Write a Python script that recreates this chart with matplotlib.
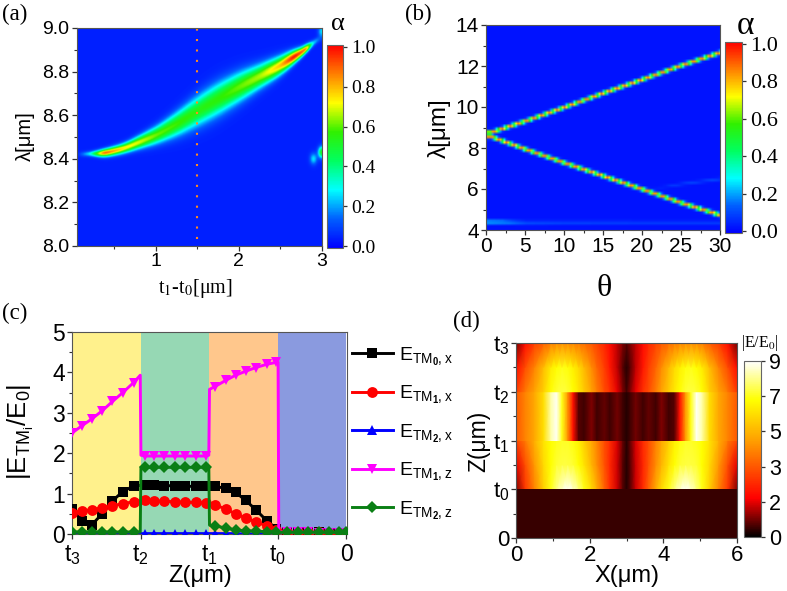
import numpy as np
import matplotlib
matplotlib.use("Agg")
import matplotlib.pyplot as plt
from matplotlib.colors import LinearSegmentedColormap, Normalize

W, H = 787, 591
SANS = "Liberation Sans"
SERIF = "Liberation Serif"

# (a) ridge, one entry per read column
a_t = [0.05, 0.21, 0.37, 0.61, 0.77, 1.01, 1.25, 1.5, 1.73, 2.0, 2.25, 2.5, 2.65, 2.81, 2.87, 3.0]
a_lam = [8.42, 8.423, 8.425, 8.447, 8.472, 8.51, 8.56, 8.62, 8.672, 8.73, 8.78, 8.83, 8.868, 8.905, 8.93, 8.96]
a_peak = [0.0, 0.25, 0.86, 0.7, 0.66, 0.57, 0.54, 0.5, 0.52, 0.57, 0.62, 0.75, 0.96, 0.8, 0.25, 0.0]
a_sigma = [0.008, 0.008, 0.012, 0.015, 0.019, 0.027, 0.037, 0.047, 0.05, 0.045, 0.036, 0.028, 0.02, 0.012, 0.01, 0.01]
# small spots at the right edge of (a)
a_spot_t = [2.99, 2.89, 2.99]
a_spot_lam = [8.43, 8.40, 8.985]
a_spot_amp = [0.5, 0.22, 0.22]
a_background = 0.04

# (b) the two branches and the faint bands
b_theta = [0.5, 5, 10, 15, 20, 25, 30]
b_upper = [8.75, 9.32, 10.0, 10.7, 11.37, 12.06, 12.7]
b_lower = [8.55, 7.92, 7.25, 6.6, 5.95, 5.28, 4.67]
b_low_theta = [0, 2, 5, 10, 20, 30]
b_low_lam = [4.33, 4.33, 4.3, 4.3, 4.3, 4.3]
b_low_amp = [0.28, 0.25, 0.1, 0.08, 0.07, 0.07]
b_faint_theta = [0, 21, 25, 30]
b_faint_lam = [5.95, 5.95, 6.2, 6.45]
b_faint_amp = [0.0, 0.0, 0.07, 0.08]
b_background = 0.02

# (c) field profiles, tick labels and legend
c_z = [0, 0.145, 0.29, 0.44, 0.59, 0.74, 0.90, 0.995,
       1.005, 1.06, 1.20, 1.34, 1.50, 1.65, 1.81, 1.95, 1.995,
       2.005, 2.085, 2.24, 2.385, 2.535, 2.68, 2.84, 2.98, 3.005,
       3.015, 3.14, 3.29, 3.44, 3.6, 3.75, 3.89, 4.0]
c_tm0x = [0.62, 0.32, 0.23, 0.5, 0.82, 1.05, 1.19, 1.2,
          1.22, 1.22, 1.22, 1.2, 1.19, 1.18, 1.18, 1.18, 1.18,
          1.18, 1.18, 1.13, 1.03, 0.83, 0.6, 0.33, 0.13, 0.1,
          0.1, 0.05, 0.04, 0.04, 0.04, 0.03, 0.03, 0.03]
c_tm1x = [0.53, 0.57, 0.6, 0.65, 0.7, 0.75, 0.8, 0.82,
          0.83, 0.83, 0.82, 0.81, 0.8, 0.79, 0.78, 0.77, 0.77,
          0.77, 0.72, 0.62, 0.5, 0.4, 0.3, 0.2, 0.1, 0.09,
          0.09, 0.05, 0.04, 0.04, 0.04, 0.03, 0.03, 0.03]
c_tm2x = [0.0, 0.0, 0.0, 0.0, 0.0, 0.0, 0.0, 0.0,
          0.01, 0.01, 0.01, 0.01, 0.01, 0.01, 0.01, 0.01, 0.01,
          0.01, 0.01, 0.01, 0.01, 0.0, 0.0, 0.0, 0.0, 0.0,
          0.0, 0.0, 0.0, 0.0, 0.0, 0.0, 0.0, 0.0]
c_tm1z = [2.5, 2.68, 2.85, 3.05, 3.28, 3.5, 3.75, 3.93,
          1.95, 1.93, 1.93, 1.93, 1.93, 1.93, 1.93, 1.93, 1.95,
          3.58, 3.65, 3.8, 3.93, 4.03, 4.12, 4.2, 4.25, 4.25,
          0.05, 0.04, 0.04, 0.04, 0.03, 0.03, 0.03, 0.03]
c_tm2z = [0.05, 0.05, 0.05, 0.05, 0.05, 0.05, 0.05, 0.05,
          1.65, 1.65, 1.65, 1.65, 1.65, 1.65, 1.65, 1.65, 1.65,
          0.22, 0.2, 0.15, 0.1, 0.08, 0.07, 0.06, 0.05, 0.05,
          0.04, 0.04, 0.04, 0.04, 0.04, 0.04, 0.04, 0.04]
# the boundary points carry no marker
c_marks = [i for i in range(len(c_z)) if i not in (7, 8, 16, 17, 25, 26)]
c_ticks = [0, 1, 2, 3, 4]
c_ticklabels = ["t$_3$", "t$_2$", "t$_1$", "t$_0$", "0"]
c_bands = ["#FFF18C", "#96D8B4", "#FFC78C", "#8A9ADF"]
c_names = [r"E$_{\mathrm{TM}_{\mathbf{0}},\mathrm{x}}$", r"E$_{\mathrm{TM}_{\mathbf{1}},\mathrm{x}}$",
           r"E$_{\mathrm{TM}_{\mathbf{2}},\mathrm{x}}$", r"E$_{\mathrm{TM}_{\mathbf{1}},\mathrm{z}}$",
           r"E$_{\mathrm{TM}_{\mathbf{2}},\mathrm{z}}$"]

# (d) |E/E0| by layer, left half of the cell, mirrored at x=3
d_x = [0, 0.25, 0.5, 0.75, 0.95, 1.1, 1.25, 1.4, 1.55, 1.7, 1.85, 2.05, 2.2, 2.4, 2.55, 2.75, 2.9, 3.0]
d_top_z = [3.0, 3.5, 4.0]
d_top = [[3.0, 4.2, 5.0, 6.0, 7.0, 7.4, 7.5, 7.4, 7.0, 6.5, 5.9, 5.0, 4.3, 3.4, 2.9, 1.8, 1.0, 0.5],
         [2.2, 3.4, 4.4, 5.6, 6.6, 7.0, 7.2, 7.1, 6.7, 6.2, 5.5, 4.6, 3.9, 3.1, 2.4, 1.5, 0.7, 0.3],
         [0.9, 2.2, 3.1, 3.7, 4.3, 4.5, 4.6, 4.5, 4.4, 4.2, 4.0, 3.6, 3.2, 2.7, 2.2, 1.5, 1.0, 0.7]]
d_mid_z = [2.0, 3.0]
d_mid = [[3.6, 4.4, 5.1, 6.3, 8.3, 8.9, 7.2, 4.8, 2.3, 0.7, 0.5, 1.0, 0.5, 0.8, 0.5, 0.9, 0.5, 0.3],
         [3.6, 4.4, 5.1, 6.3, 8.3, 8.9, 7.2, 4.8, 2.3, 0.7, 0.5, 1.0, 0.5, 0.8, 0.5, 0.9, 0.5, 0.3]]
d_low_z = [1.0, 1.5, 2.0]
d_low = [[1.0, 3.0, 4.4, 6.0, 7.2, 8.0, 8.6, 9.0, 8.6, 8.0, 7.2, 6.2, 5.2, 3.8, 2.8, 1.6, 0.7, 0.3],
         [1.8, 3.4, 4.8, 6.2, 7.0, 7.4, 7.5, 7.5, 7.4, 7.0, 6.4, 5.4, 4.6, 3.5, 2.7, 1.6, 0.7, 0.3],
         [3.2, 4.2, 5.3, 6.4, 7.0, 7.2, 7.3, 7.3, 7.1, 6.7, 6.0, 5.1, 4.4, 3.4, 2.8, 1.7, 0.8, 0.3]]
d_floor = 0.45
d_ticks = [0, 1, 2, 3, 4]
d_ticklabels = ["0", "t$_0$", "t$_1$", "t$_2$", "t$_3$"]
d_cb_ticks = [0, 1.8, 3.6, 5.4, 7.2, 9]
d_cb_labels = ["0", "2", "3", "5", "7", "9"]

rainbow = LinearSegmentedColormap.from_list(
    "origin", ["#0000FF", "#0060FF", "#00FFFF", "#00FF60", "#30F000", "#FFFF00", "#FF8000", "#FF0000"])
fire = LinearSegmentedColormap.from_list(
    "fire", [(0, "#000000"), (0.22, "#FF0000"), (0.55, "#FFA000"), (0.78, "#FFFF00"), (1, "#FFFFFF")])

plt.rcParams["font.family"] = SANS
plt.rcParams["mathtext.fontset"] = "custom"
plt.rcParams["mathtext.rm"] = SANS
plt.rcParams["mathtext.bf"] = SANS + ":bold"
plt.rcParams["axes.edgecolor"] = "#555555"


def px_axes(fig, left, top, right, bottom):
    return fig.add_axes([left / W, 1 - bottom / H, (right - left) / W, (bottom - top) / H])


def style(ax, size):
    ax.tick_params(which="major", length=3.5, width=0.9, labelsize=size, pad=1.5, color="#333333")
    ax.tick_params(which="minor", length=2, width=0.8, color="#333333")


def colorbar(fig, mesh, box, ticks, labels, family, size):
    cax = px_axes(fig, *box)
    bar = fig.colorbar(mesh, cax=cax)
    bar.set_ticks(ticks, labels=labels)
    bar.ax.minorticks_off()
    bar.ax.tick_params(length=3, width=0.9, labelsize=size, pad=3, color="#333333")
    for t in bar.ax.get_yticklabels():
        t.set_family(family)
    bar.outline.set_edgecolor("#666666")
    return bar


def smooth(t_axis, xs, ys, window=25):
    # takes the corners out of the read column values
    vals = np.interp(t_axis, xs, ys)
    padded = np.pad(vals, window, mode="edge")
    return np.convolve(padded, np.ones(window) / window, mode="same")[window:-window]


def ridge_field(t_axis, lam_axis):
    peak = smooth(t_axis, a_t, a_peak, 9)
    mid = smooth(t_axis, a_t, a_lam)
    sig = smooth(t_axis, a_t, a_sigma)
    tt, ll = np.meshgrid(t_axis, lam_axis)
    field = a_background + peak * np.exp(-0.5 * ((ll - mid) / sig) ** 2)
    for t0, l0, amp in zip(a_spot_t, a_spot_lam, a_spot_amp):
        field += amp * np.exp(-0.5 * (((tt - t0) / 0.03) ** 2 + ((ll - l0) / 0.018) ** 2))
    return field


def draw_a(fig):
    ax = px_axes(fig, 76.5, 28, 322, 246)
    field = ridge_field(np.linspace(0.05, 3, 400), np.linspace(8, 9, 400))
    mesh = ax.imshow(field, extent=[0.05, 3, 8, 9], origin="lower", aspect="auto",
                     cmap=rainbow, norm=Normalize(-0.01, 1.01), interpolation="bilinear")
    ax.plot([1.5, 1.5], [8.03, 9.0], color="#FF8A1E", lw=1.5, linestyle=(0, (1, 4)))
    ax.set_xlim(0.05, 3)
    ax.set_ylim(8, 9)
    ax.set_xticks([1, 2, 3])
    ax.set_xticks([0.5, 1.5, 2.5], minor=True)
    ax.set_yticks([8, 8.2, 8.4, 8.6, 8.8, 9], labels=["8.0", "8.2", "8.4", "8.6", "8.8", "9.0"])
    ax.set_yticks(np.arange(8.1, 9, 0.2), minor=True)
    style(ax, 14)
    fig.text(195 / W, 1 - 288 / H, "t$_1$-t$_0$[μm]", family=SERIF, fontsize=14.5, ha="center", va="center",
             math_fontfamily="stix")
    fig.text(25 / W, 1 - 136 / H, "λ[μm]", rotation=90, fontsize=14.5, ha="center", va="center")
    colorbar(fig, mesh, (327, 45, 343, 248), [0, 0.2, 0.4, 0.6, 0.8, 1], ["0.0", "0.2", "0.4", "0.6", "0.8", "1.0"],
             SERIF, 14)
    fig.text(338 / W, 1 - 24 / H, "α", family=SERIF, fontsize=19, ha="center", va="center")
    fig.text(2 / W, 1 - 14 / H, "(a)", family=SERIF, fontsize=16.5, va="center")


def draw_b(fig):
    ax = px_axes(fig, 486, 25, 720, 230)
    # sampled on a coarse wavelength grid: the beading along the bands comes from that
    th = np.arange(0, 30.01, 0.25)
    lam = np.linspace(4, 14, 76)
    tt, ll = np.meshgrid(th, lam)
    field = np.full(tt.shape, b_background, dtype=float)
    for branch in (b_upper, b_lower):
        mid = np.interp(tt, b_theta, branch)
        field += 0.85 * np.exp(-0.5 * ((ll - mid) / 0.06) ** 2)
    mid = np.interp(tt, b_low_theta, b_low_lam)
    field += np.interp(tt, b_low_theta, b_low_amp) * np.exp(-0.5 * ((ll - mid) / 0.06) ** 2)
    mid = np.interp(tt, b_faint_theta, b_faint_lam)
    field += np.interp(tt, b_faint_theta, b_faint_amp) * np.exp(-0.5 * ((ll - mid) / 0.05) ** 2)
    mesh = ax.imshow(field, extent=[0, 30, 4, 14], origin="lower", aspect="auto",
                     cmap=rainbow, norm=Normalize(-0.01, 1.01), interpolation="bilinear")
    ax.set_xlim(0, 30)
    ax.set_ylim(4, 14)
    ax.set_xticks(range(0, 31, 5))
    ax.set_xticks(np.arange(2.5, 30, 5), minor=True)
    ax.set_yticks(range(4, 15, 2))
    ax.set_yticks(range(5, 14, 2), minor=True)
    style(ax, 15)
    fig.text(604 / W, 1 - 289 / H, "θ", family=SERIF, fontsize=23, ha="center", va="center")
    fig.text(439 / W, 1 - 128 / H, "λ[μm]", rotation=90, fontsize=17.5, ha="center", va="center")
    colorbar(fig, mesh, (725, 42, 742, 233), [0, 0.2, 0.4, 0.6, 0.8, 1], ["0.0", "0.2", "0.4", "0.6", "0.8", "1.0"],
             SERIF, 16)
    fig.text(745 / W, 1 - 26 / H, "α", family=SERIF, fontsize=24, ha="center", va="center")
    fig.text(405 / W, 1 - 14 / H, "(b)", family=SERIF, fontsize=16.5, va="center")


def draw_c(fig):
    ax = px_axes(fig, 72, 332, 347, 534)
    for i, band in enumerate(c_bands):
        ax.axvspan(i, i + 1, color=band, lw=0, zorder=0)
    series = [(c_tm0x, "black", "s", 6.5), (c_tm1x, "#FF0000", "o", 7.8), (c_tm2x, "#0000FF", "^", 6.8),
              (c_tm1z, "#FF00FF", "v", 7.8), (c_tm2z, "#0A7F14", "D", 6.5)]
    handles = []
    for (values, color, marker, ms), name in zip(series, c_names):
        line, = ax.plot(c_z, values, color=color, lw=2.1, marker=marker, ms=ms, mew=0,
                        markevery=c_marks, label=name, zorder=3)
        handles.append(line)
    ax.set_xlim(0, 4.01)
    ax.set_ylim(0, 5)
    ax.set_xticks(c_ticks, labels=c_ticklabels)
    ax.set_yticks(range(6))
    ax.set_yticks(np.arange(0.5, 5, 1), minor=True)
    style(ax, 16.5)
    ax.tick_params(axis="x", pad=3)
    fig.text(200 / W, 1 - 576 / H, "Z(μm)", fontsize=17, ha="center", va="center")
    fig.text(21 / W, 1 - 432 / H, r"|E$_{\mathrm{TM}_{\mathrm{i}}}$/E$_0$|", rotation=90, fontsize=18.5,
             ha="center", va="center")
    fig.legend(handles=handles, loc="upper left", bbox_to_anchor=(352 / W, 1 - 345 / H), frameon=False,
               fontsize=14, handlelength=2.1, handletextpad=0.3, labelspacing=0.82, borderpad=0, borderaxespad=0)
    fig.text(2 / W, 1 - 313 / H, "(c)", family=SERIF, fontsize=16.5, va="center")


def draw_d(fig):
    ax = px_axes(fig, 516, 343, 737, 538)
    norm = Normalize(0, 9)
    half = np.array(d_x)
    xs = np.concatenate([half, 6 - half[-2::-1]])
    mesh = None
    for zs, rows in ((d_low_z, d_low), (d_mid_z, d_mid), (d_top_z, d_top)):
        rows = np.array(rows)
        full = np.hstack([rows, rows[:, -2::-1]])
        mesh = ax.pcolormesh(xs, zs, full, shading="gouraud", cmap=fire, norm=norm, rasterized=True)
    ax.axhspan(0, 1, color=fire(norm(d_floor)), lw=0)
    ax.set_xlim(0, 6)
    ax.set_ylim(0, 4)
    ax.set_xticks([0, 2, 4, 6])
    ax.set_xticks([1, 3, 5], minor=True)
    ax.set_yticks(d_ticks, labels=d_ticklabels)
    ax.set_yticks(np.arange(0.5, 4, 1), minor=True)
    style(ax, 16)
    fig.text(627 / W, 1 - 576 / H, "X(μm)", fontsize=17, ha="center", va="center")
    fig.text(479 / W, 1 - 441 / H, "Z(μm)", rotation=90, fontsize=16.5, ha="center", va="center")
    colorbar(fig, mesh, (744, 361, 761, 537), d_cb_ticks, d_cb_labels, SANS, 15.5)
    fig.text(760 / W, 1 - 343 / H, "|E/E$_0$|", family=SERIF, fontsize=11.5, ha="center", va="center",
             math_fontfamily="stix")
    fig.text(453 / W, 1 - 321 / H, "(d)", family=SERIF, fontsize=16.5, va="center")


def main():
    fig = plt.figure(figsize=(W / 100, H / 100), dpi=100)
    draw_a(fig)
    draw_b(fig)
    draw_c(fig)
    draw_d(fig)
    fig.savefig("out.png", dpi=100)


if __name__ == "__main__":
    main()
